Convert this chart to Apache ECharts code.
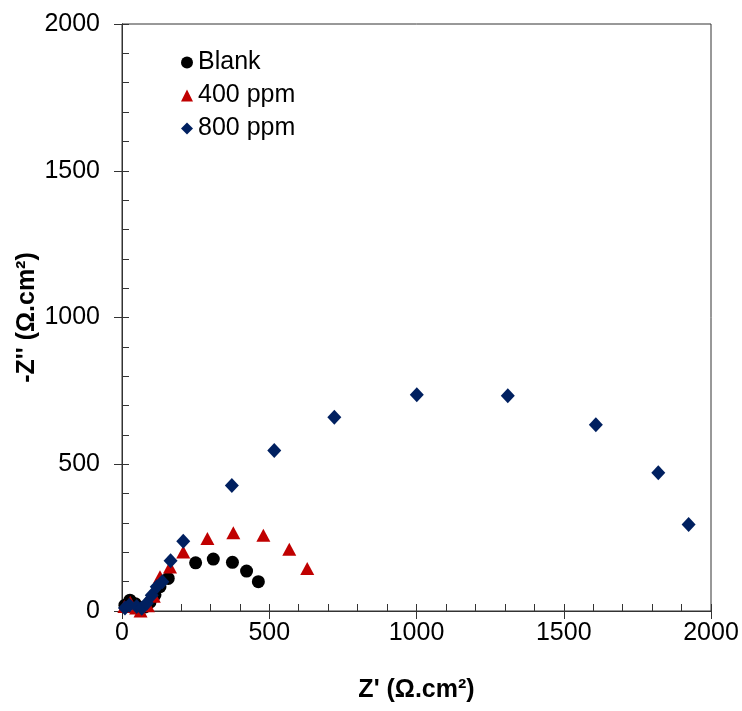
<!DOCTYPE html>
<html>
<head>
<meta charset="utf-8">
<script src="https://cdn.jsdelivr.net/npm/echarts@6/dist/echarts.min.js"></script>
<style>html,body{margin:0;padding:0;background:#fff}#c{width:742px;height:711px}</style>
</head>
<body>
<div id="c"></div>
<script>
var seriesNames = ['Blank', '400 ppm', '800 ppm'];
var blankX = [10, 27, 45, 62, 78, 95, 112, 129, 157, 250, 310, 375, 423, 463];
var blankY = [20, 37, 25, 10, 14, 30, 55, 83, 111, 164, 177, 166, 136, 100];
var ppm400X = [8, 28, 48, 63, 72, 88, 108, 129, 163, 208, 290, 378, 480, 568, 629];
var ppm400Y = [15, 30, 10, 0, -8, 18, 50, 117, 150, 201, 247, 267, 258, 210, 145];
var ppm800X = [10, 25, 50, 67, 84, 101, 118, 137, 165, 208, 373, 517, 721, 1001, 1310, 1609, 1821, 1924];
var ppm800Y = [10, 20, 15, 9, 26, 54, 83, 100, 171, 238, 428, 547, 660, 737, 733, 635, 471, 295];
var xTicks = [0, 500, 1000, 1500, 2000];
var yTicks = [0, 500, 1000, 1500, 2000];

function pairs(xs, ys) { return xs.map(function (x, i) { return [x, ys[i]]; }); }

var FONT = '"Liberation Sans", Arial, sans-serif';
var axisColor = '#333333';
var chart = echarts.init(document.getElementById('c'));
var xMin = xTicks[0], xMax = xTicks[xTicks.length - 1];
var yMin = yTicks[0], yMax = yTicks[yTicks.length - 1];
function plain(v) { return String(v); }

chart.setOption({
  animation: false,
  backgroundColor: '#fff',
  grid: { left: 122, right: 31, top: 24, bottom: 100, outerBoundsMode: 'none', containLabel: false,
          show: true, borderColor: axisColor, borderWidth: 1, backgroundColor: 'transparent' },
  legend: {
    orient: 'vertical', left: 176, top: 45, itemGap: 8, itemWidth: 12, itemHeight: 12,
    textStyle: { fontFamily: FONT, fontSize: 25, color: '#000', lineHeight: 25 },
    data: seriesNames
  },
  xAxis: [{
    type: 'value', position: 'bottom', min: xMin, max: xMax, interval: 500,
    name: "Z' (Ω.cm²)", nameLocation: 'middle', nameGap: 67, nameMoveOverlap: false,
    nameTextStyle: { fontFamily: FONT, fontSize: 25, fontWeight: 'bold', color: '#000' },
    axisLine: { show: true, lineStyle: { color: axisColor, width: 1 } },
    axisTick: { show: true, inside: false, length: 8, lineStyle: { color: axisColor } },
    axisLabel: { fontFamily: FONT, fontSize: 25, color: '#000', margin: 10, formatter: plain },
    splitLine: { show: false }
  }, {
    type: 'value', position: 'bottom', min: xMin, max: xMax, interval: 500,
    axisLine: { show: true, lineStyle: { color: axisColor, width: 1 } },
    axisTick: { show: true, inside: true, length: 7, lineStyle: { color: axisColor } },
    minorTick: { show: true, splitNumber: 5, length: 7, lineStyle: { color: axisColor } },
    axisLabel: { show: false }, splitLine: { show: false }
  }],
  yAxis: [{
    type: 'value', position: 'left', min: yMin, max: yMax, interval: 500,
    name: "-Z'' (Ω.cm²)", nameLocation: 'middle', nameGap: 82, nameRotate: 90, nameMoveOverlap: false,
    nameTextStyle: { fontFamily: FONT, fontSize: 25, fontWeight: 'bold', color: '#000' },
    axisLine: { show: true, lineStyle: { color: axisColor, width: 1 } },
    axisTick: { show: true, inside: false, length: 8, lineStyle: { color: axisColor } },
    axisLabel: { fontFamily: FONT, fontSize: 25, color: '#000', margin: 22, formatter: plain },
    splitLine: { show: false }
  }, {
    type: 'value', position: 'left', min: yMin, max: yMax, interval: 500,
    axisLine: { show: true, lineStyle: { color: axisColor, width: 1 } },
    axisTick: { show: true, inside: true, length: 7, lineStyle: { color: axisColor } },
    minorTick: { show: true, splitNumber: 5, length: 7, lineStyle: { color: axisColor } },
    axisLabel: { show: false }, splitLine: { show: false }
  }],
  series: [{
    name: seriesNames[0], type: 'scatter', symbol: 'circle', symbolSize: 13,
    itemStyle: { color: '#000000', opacity: 1 }, data: pairs(blankX, blankY)
  }, {
    name: seriesNames[1], type: 'scatter', symbol: 'triangle', symbolSize: [14, 13],
    itemStyle: { color: '#C00000', opacity: 1 }, data: pairs(ppm400X, ppm400Y)
  }, {
    name: seriesNames[2], type: 'scatter', symbol: 'diamond', symbolSize: [14, 15],
    itemStyle: { color: '#002060', opacity: 1 }, data: pairs(ppm800X, ppm800Y)
  }, {
    name: 'ticks', type: 'scatter', xAxisIndex: 1, yAxisIndex: 1, data: [], silent: true
  }]
});
</script>
</body>
</html>
